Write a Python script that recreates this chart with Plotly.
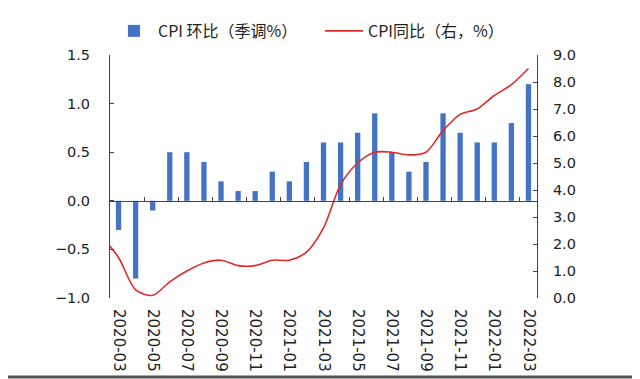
import plotly.graph_objects as go

# Monthly categories (2020-02 only feeds the line segment that enters from the left edge)
months = ["2020-02", "2020-03", "2020-04", "2020-05", "2020-06", "2020-07", "2020-08",
          "2020-09", "2020-10", "2020-11", "2020-12", "2021-01", "2021-02", "2021-03",
          "2021-04", "2021-05", "2021-06", "2021-07", "2021-08", "2021-09", "2021-10",
          "2021-11", "2021-12", "2022-01", "2022-02", "2022-03"]

# CPI month-on-month, seasonally adjusted (%), 2020-03 .. 2022-03
bar_months = months[1:]
cpi_mom = [-0.3, -0.8, -0.1, 0.5, 0.5, 0.4, 0.2, 0.1, 0.1, 0.3, 0.2, 0.4, 0.6,
           0.6, 0.7, 0.9, 0.5, 0.3, 0.4, 0.9, 0.7, 0.6, 0.6, 0.8, 1.2]

# CPI year-on-year (%), right axis, 2020-02 .. 2022-03
cpi_yoy = [2.3, 1.5, 0.3, 0.1, 0.6, 1.0, 1.3, 1.4, 1.2, 1.2, 1.4, 1.4, 1.7, 2.6,
           4.2, 5.0, 5.4, 5.4, 5.3, 5.4, 6.2, 6.8, 7.0, 7.5, 7.9, 8.5]

tick_labels = bar_months[::2]

FONT = "Noto Sans CJK SC"
TICKFONT = "DejaVu Sans"
AXIS = "#444444"
TXT = "#222222"

fig = go.Figure()
fig.add_trace(go.Bar(
    x=bar_months, y=cpi_mom, name="CPI 环比（季调%）",
    marker=dict(color="#4472C4", line=dict(width=0)),
    xaxis="x", yaxis="y",
))
fig.add_trace(go.Scatter(
    x=months, y=cpi_yoy, name="CPI同比（右，%）", mode="lines",
    line=dict(color="#E02A2A", width=1.6, shape="spline", smoothing=0.8),
    xaxis="x2", yaxis="y2",
))

# the page body has an 8px margin, so the figure is sized to the visible area
OFF = 8
W, H = 640 - OFF, 379 - OFF
L, T = 110 - OFF, 55 - OFF
pw, ph = 427, 243
R, B = W - L - pw, H - T - ph

fig.update_layout(
    width=W, height=H,
    margin=dict(l=L, r=R, t=T, b=B, autoexpand=False),
    paper_bgcolor="white", plot_bgcolor="white",
    font=dict(family=FONT, size=15, color=TXT),
    bargap=0.69,
    showlegend=True,
    legend=dict(orientation="h",
                x=-0.0001, xanchor="left",
                y=1 + (T - (31 - OFF)) / ph, yanchor="middle",
                font=dict(family=FONT, size=16, color=TXT),
                itemwidth=38, entrywidth=157, bgcolor="rgba(0,0,0,0)"),
    xaxis=dict(type="category", categoryorder="array", categoryarray=months,
               range=[0.5, len(months) - 0.5], automargin=False,
               tickmode="array", tickvals=tick_labels, ticktext=tick_labels,
               tickangle=90, ticks="", showline=False, showgrid=False,
               zeroline=False, ticklabelstandoff=10,
               tickfont=dict(family=TICKFONT, size=15, color=TXT)),
    xaxis2=dict(type="category", categoryorder="array", categoryarray=months,
                overlaying="x", matches="x", anchor="free", position=0.4,
                automargin=False,
                tickmode="array", tickvals=tick_labels, tickson="boundaries",
                ticks="inside", ticklen=4, tickcolor=AXIS, tickwidth=1,
                showticklabels=False, showline=True, linecolor=AXIS, linewidth=1,
                showgrid=False, zeroline=False),
    yaxis=dict(range=[-1.0, 1.5], dtick=0.5, tick0=0, tickformat=".1f",
               automargin=False,
               ticks="inside", ticklen=4, tickcolor=AXIS,
               showline=True, linecolor=AXIS, linewidth=1,
               showgrid=False, zeroline=False, ticklabelstandoff=16,
               tickfont=dict(family=TICKFONT, size=14.5, color=TXT)),
    yaxis2=dict(range=[0, 9], dtick=1, tick0=0, tickformat=".1f",
                overlaying="y", side="right", anchor="x2", automargin=False,
                ticks="inside", ticklen=4, tickcolor=AXIS,
                showline=True, linecolor=AXIS, linewidth=1,
                showgrid=False, zeroline=False, ticklabelstandoff=12,
                tickfont=dict(family=TICKFONT, size=14.5, color=TXT)),
)

# picture frame edges (bottom and right) as seen in the reference image
def px_x(p):
    return (p - OFF - L) / pw

def px_y(p):
    return (H - B - (p - OFF)) / ph

frame = [
    (0, 377, 640, 377, "#555555", 3),
    (638, 0, 638, 379, "#888888", 1),
]
for x0, y0, x1, y1, c, w in frame:
    fig.add_shape(type="line", xref="paper", yref="paper",
                  x0=px_x(x0), y0=px_y(y0), x1=px_x(x1), y1=px_y(y1),
                  line=dict(color=c, width=w), layer="above")

fig.write_html("out.html")
